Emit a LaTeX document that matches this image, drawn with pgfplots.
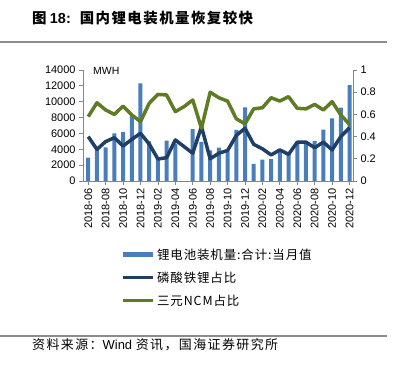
\documentclass[border=0pt]{standalone}
\usepackage{pgfplots}
\pgfplotsset{compat=1.18}
\usepackage{fontspec}
\setmainfont{Liberation Sans}
\newfontfamily\cjk{Noto Sans CJK SC}
\newfontfamily\cjkt[LetterSpace=10]{Noto Sans CJK SC}
\newfontfamily\cjks[LetterSpace=11]{Noto Sans CJK SC}
\newfontfamily\cjkl[LetterSpace=7]{Noto Sans CJK SC}
\definecolor{barblue}{RGB}{74,126,187}
\definecolor{lfp}{RGB}{31,63,102}
\definecolor{ncm}{RGB}{95,124,36}
\definecolor{rulegray}{RGB}{140,140,140}
\definecolor{axisgray}{RGB}{134,134,134}
\pgfplotsset{myax/.style={at={(88.23bp,187bp)}, anchor=origin, scale only axis,
  width=270bp, height=111bp, xmin=-0.6, xmax=30.4,
  axis line style={axisgray, line width=0.75bp},
  tick style={axisgray, line width=0.75bp}, tick align=outside, major tick length=4bp,
  tick label style={font=\fontsize{11}{12}\selectfont},
  /pgf/number format/assume math mode=true}}
\begin{document}
\begin{tikzpicture}
\path[use as bounding box] (0bp,0bp) rectangle (395bp,368bp);
\node[anchor=west, inner sep=0] at (32bp,349.7bp) {\fontsize{14.5}{16}\selectfont\bfseries\cjk 图 \rmfamily 18:\hspace{9bp}\cjkt 国内锂电装机量恢复较快};
\draw[rulegray, line width=2.5bp] (0bp,326bp) -- (387bp,326bp);
\draw[rulegray, line width=2.5bp] (0bp,32bp) -- (387bp,32bp);
\node[anchor=west, inner sep=0] at (32bp,23bp) {\fontsize{13}{14}\selectfont\cjks 资料来源：\rmfamily Wind \cjks 资讯，国海证券研究所};
\node[anchor=west, inner sep=0] at (93bp,297bp) {\fontsize{10.5}{12}\selectfont MWH};

\begin{axis}[myax, ymin=0, ymax=14000,
  axis y line*=left, axis x line*=bottom,
  xtick={0,2,...,30},
  xticklabels={2018-06,2018-08,2018-10,2018-12,2019-02,2019-04,2019-06,2019-08,2019-10,2019-12,2020-02,2020-04,2020-06,2020-08,2020-10,2020-12},
  xticklabel style={rotate=90, anchor=east},
  ytick={0,2000,...,14000}, scaled y ticks=false,
  yticklabel style={/pgf/number format/.cd, fixed, 1000 sep={}}]
\addplot[ybar, bar width=4bp, fill=barblue, draw=none] coordinates {
(0,2950) (1,3900) (2,4250) (3,6000) (4,6150) (5,8350) (6,12300) (7,5000)
(8,2750) (9,5100) (10,4700) (12,6550) (13,4950) (14,3850) (15,4200)
(16,3750) (17,6450) (18,9300) (19,2150) (20,2700) (21,2750) (22,3850)
(23,3650) (24,4650) (25,4700) (26,5050) (27,6480) (28,7900) (29,9250) (30,12100)};
\end{axis}

\begin{axis}[myax, ymin=0, ymax=1,
  axis y line*=right, axis x line=none,
  ytick={0,0.2,0.4,0.6,0.8,1},
  yticklabel style={/pgf/number format/.cd, fixed, precision=1},
  legend style={at={(0.137,-0.59)}, anchor=north west, draw=none, fill=none,
    inner sep=0pt, row sep=7bp, font=\fontsize{12.5}{13}\selectfont\cjkl, cells={anchor=west}},
  legend image code/.code={\draw[#1] (0bp,0bp) -- (30bp,0bp);}]
\addlegendimage{barblue, line width=5bp}
\addlegendentry{锂电池装机量:合计:当月值}
\addplot[lfp, line width=3.5bp, line join=round] coordinates {
(0,0.40) (1,0.285) (2,0.355) (3,0.39) (4,0.315) (5,0.375) (6,0.43) (7,0.333)
(8,0.198) (9,0.21) (10,0.37) (11,0.31) (12,0.25) (13,0.49) (14,0.20) (15,0.25)
(16,0.275) (17,0.41) (18,0.475) (19,0.33) (20,0.29) (21,0.235) (22,0.28) (23,0.24)
(24,0.35) (25,0.35) (26,0.30) (27,0.35) (28,0.28) (29,0.40) (30,0.48)};
\addlegendentry{磷酸铁锂占比}
\addplot[ncm, line width=3.5bp, line join=round] coordinates {
(0,0.58) (1,0.705) (2,0.64) (3,0.60) (4,0.675) (5,0.595) (6,0.535) (7,0.70)
(8,0.78) (9,0.775) (10,0.625) (11,0.67) (12,0.73) (13,0.475) (14,0.80) (15,0.75)
(16,0.72) (17,0.56) (18,0.515) (19,0.65) (20,0.66) (21,0.75) (22,0.72) (23,0.76)
(24,0.655) (25,0.65) (26,0.69) (27,0.64) (28,0.715) (29,0.595) (30,0.51)};
\addlegendentry{三元NCM占比}
\end{axis}
\end{tikzpicture}
\end{document}
